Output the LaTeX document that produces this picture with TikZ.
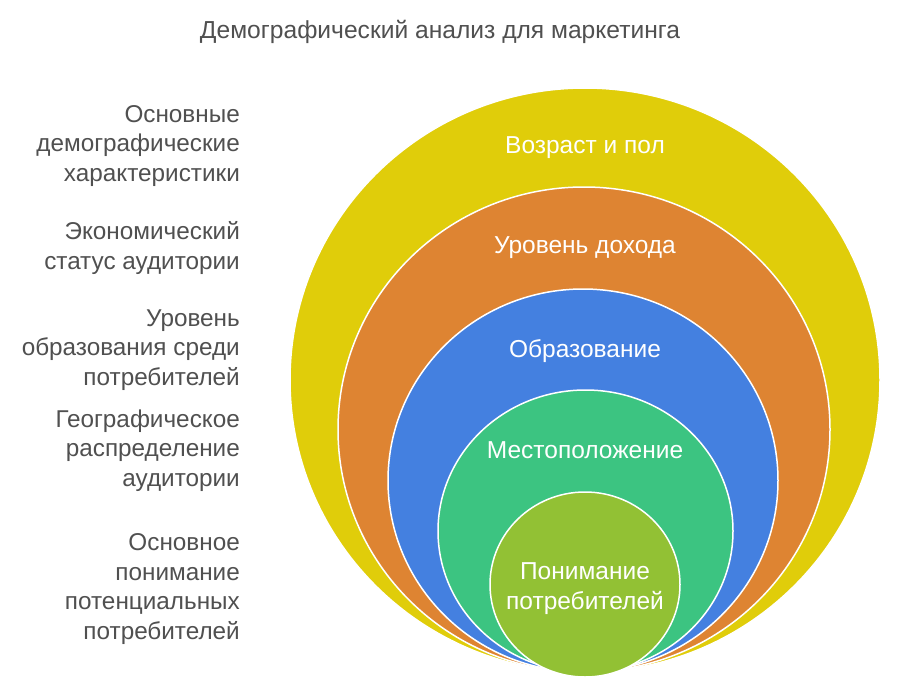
\documentclass[tikz,border=0pt]{standalone}
\usepackage{fontspec}
\setmainfont{Liberation Sans}
\usetikzlibrary{shapes.geometric}
\definecolor{ringyellow}{RGB}{224,205,10}
\definecolor{ringorange}{RGB}{222,132,50}
\definecolor{ringblue}{RGB}{68,128,224}
\definecolor{ringgreen}{RGB}{60,196,129}
\definecolor{ringlime}{RGB}{146,193,52}
\definecolor{sidegray}{RGB}{80,80,80}

\begin{document}
\begin{tikzpicture}[
    x=1pt, y=-1pt,
    ring/.style={ellipse, draw=white, line width=1.5pt, inner sep=0pt},
    inlabel/.style={text=white, font=\fontsize{24.5}{30}\selectfont, align=center, inner sep=0pt},
    sidelabel/.style={anchor=east, text=sidegray, font=\fontsize{24.3}{29.5}\selectfont, align=right, inner sep=0pt}
]
    \fill[white] (0,0) rectangle (900,697);
    \useasboundingbox (0,0) rectangle (900,697);

    \node[text=sidegray, font=\fontsize{24.6}{28}\selectfont] (title) at (440,31.5)
        {Демографический анализ для маркетинга};

    % nested rings, all touching at the bottom
    \node[ring, fill=ringyellow, minimum width=590pt, minimum height=584pt] (age) at (585,380) {};
    \node[ring, fill=ringorange, minimum width=492pt, minimum height=485pt] (income) at (584,429.5) {};
    \node[ring, fill=ringblue, minimum width=390pt, minimum height=383pt] (edu) at (583,480.5) {};
    \node[ring, fill=ringgreen, minimum width=295pt, minimum height=282pt] (geo) at (585.5,531) {};
    \node[ring, fill=ringlime, minimum width=190pt, minimum height=185pt] (core) at (585,584.5) {};

    \node[inlabel] (agetxt) at (585,148) {Возраст и пол};
    \node[inlabel] (incometxt) at (585,248) {Уровень дохода};
    \node[inlabel] (edutxt) at (585,351) {Образование};
    \node[inlabel] (geotxt) at (585,450) {Местоположение};
    \node[inlabel] (coretxt) at (585,589) {Понимание\\потребителей};

    % descriptions on the left
    \node[sidelabel] (agedesc) at (240,146) {Основные\\демографические\\характеристики};
    \node[sidelabel] (incomedesc) at (240,248) {Экономический\\статус аудитории};
    \node[sidelabel] (edudesc) at (240,350) {Уровень\\образования среди\\потребителей};
    \node[sidelabel] (geodesc) at (240,450.5) {Географическое\\распределение\\аудитории};
    \node[sidelabel] (coredesc) at (240,589) {Основное\\понимание\\потенциальных\\потребителей};
\end{tikzpicture}
\end{document}
